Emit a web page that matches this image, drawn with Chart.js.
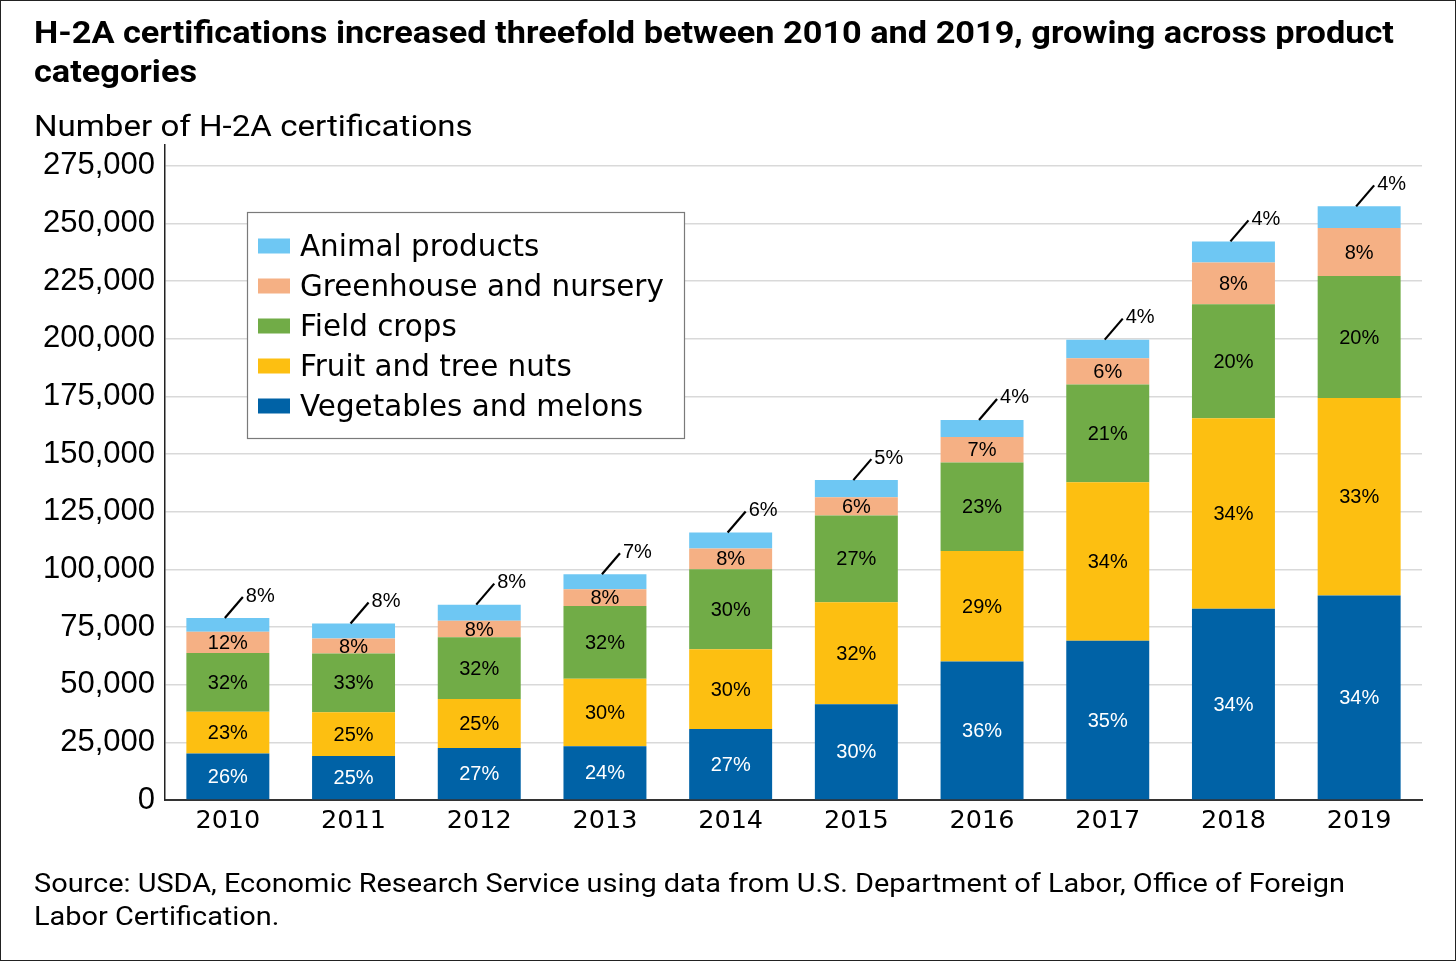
<!DOCTYPE html>
<html>
<head>
<meta charset="utf-8">
<script src="https://cdn.jsdelivr.net/npm/chart.js@4.4.1/dist/chart.umd.min.js"></script>
<style>
  html, body { margin: 0; padding: 0; background: #fff; }
  #wrap { position: relative; width: 1456px; height: 961px; overflow: hidden; background: #fff; }
  #c { position: absolute; left: 0; top: 0; }
  .txt { position: absolute; white-space: nowrap; color: #000; font-family: Roboto, "Liberation Sans", sans-serif; transform-origin: 0 0; }
  #title { left: 34px; top: 13px; font-size: 31px; font-weight: 700; line-height: 39px; transform: scaleX(1.106); }
  #ytitle { left: 34px; top: 106px; font-size: 30px; line-height: 40px; transform: scaleX(1.103); }
  #source { left: 34px; top: 867px; font-size: 26px; line-height: 33px; transform: scaleX(1.111); }
  #frame { position: absolute; left: 0; top: 0; width: 1456px; height: 961px; box-sizing: border-box; border: 1.5px solid #222; pointer-events: none; }
</style>
</head>
<body>
<div id="wrap">
  <canvas id="c" width="1456" height="961"></canvas>
  <div id="title" class="txt">H-2A certifications increased threefold between 2010 and 2019, growing across product<br>categories</div>
  <div id="ytitle" class="txt">Number of H-2A certifications</div>
  <div id="source" class="txt">Source: USDA, Economic Research Service using data from U.S. Department of Labor, Office of Foreign<br>Labor Certification.</div>
  <div id="frame"></div>
</div>
<script>
// ---- Data ----
const years = ["2010", "2011", "2012", "2013", "2014", "2015", "2016", "2017", "2018", "2019"];
const vegetablesMelons = [20200, 19100, 22600, 23300, 30800, 41500, 60100, 69000, 82900, 88700];
const fruitTreeNuts    = [18100, 19000, 21200, 29300, 34600, 44200, 47900, 68800, 82600, 85600];
const fieldCrops       = [25400, 25400, 26800, 31500, 34600, 37700, 38300, 42400, 49400, 52900];
const greenhouseNursery= [9200, 6500, 7100, 7300, 9100, 7900, 11100, 11300, 18200, 20800];
const animalProducts   = [6000, 6500, 7000, 6500, 6900, 7400, 7400, 8100, 9100, 9400];

// Percentage labels shown on the chart
const vegPct    = [26, 25, 27, 24, 27, 30, 36, 35, 34, 34];
const fruitPct  = [23, 25, 25, 30, 30, 32, 29, 34, 34, 33];
const fieldPct  = [32, 33, 32, 32, 30, 27, 23, 21, 20, 20];
const greenPct  = [12, 8, 8, 8, 8, 6, 7, 6, 8, 8];
const animalPct = [8, 8, 8, 7, 6, 5, 4, 4, 4, 4];

// Y-axis tick values
const yTicks = [0, 25000, 50000, 75000, 100000, 125000, 150000, 175000, 200000, 225000, 250000, 275000];
const yMax = 284000;

const pctLabels = [vegPct, fruitPct, fieldPct, greenPct, animalPct];

const labelPlugin = {
  id: 'segLabels',
  afterDatasetsDraw(chart) {
    const ctx = chart.ctx;
    ctx.save();
    ctx.font = '20px "Liberation Sans", Arial, sans-serif';
    ctx.textAlign = 'center';
    ctx.textBaseline = 'middle';
    for (let d = 0; d < 4; d++) {
      const meta = chart.getDatasetMeta(d);
      meta.data.forEach((el, i) => {
        ctx.fillStyle = d === 0 ? '#ffffff' : '#000000';
        ctx.fillText(pctLabels[d][i] + '%', el.x, (el.y + el.base) / 2 + 1);
      });
    }
    const top = chart.getDatasetMeta(4);
    ctx.strokeStyle = '#000';
    ctx.lineWidth = 2.2;
    ctx.textAlign = 'left';
    ctx.fillStyle = '#000';
    top.data.forEach((el, i) => {
      ctx.beginPath();
      ctx.moveTo(el.x - 3, el.y);
      ctx.lineTo(el.x + 15, el.y - 21);
      ctx.stroke();
      ctx.fillText(pctLabels[4][i] + '%', el.x + 18, el.y - 22);
    });
    ctx.restore();
  },
  afterDraw(chart) {
    const ctx = chart.ctx;
    const a = chart.chartArea;
    const bx = a.left + 82, by = a.top + 67, bw = 437, bh = 226;
    ctx.save();
    ctx.fillStyle = '#fff';
    ctx.fillRect(bx, by, bw, bh);
    ctx.strokeStyle = '#7a7a7a';
    ctx.lineWidth = 1.2;
    ctx.strokeRect(bx + 0.5, by + 0.5, bw, bh);
    const order = [4, 3, 2, 1, 0];
    ctx.font = '29.4px "DejaVu Sans", sans-serif';
    ctx.textBaseline = 'middle';
    ctx.textAlign = 'left';
    order.forEach((d, k) => {
      const ds = chart.data.datasets[d];
      const cy = by + 34 + k * 40;
      ctx.fillStyle = ds.backgroundColor;
      ctx.fillRect(bx + 11, cy - 7.5, 32, 15);
      ctx.fillStyle = '#000';
      ctx.fillText(ds.label, bx + 53, cy + 2);
    });
    ctx.restore();
  }
};

new Chart(document.getElementById('c'), {
  type: 'bar',
  data: {
    labels: years,
    datasets: [
      { label: 'Vegetables and melons', data: vegetablesMelons, backgroundColor: '#0062A6' },
      { label: 'Fruit and tree nuts', data: fruitTreeNuts, backgroundColor: '#FDBF11' },
      { label: 'Field crops', data: fieldCrops, backgroundColor: '#71AC47' },
      { label: 'Greenhouse and nursery', data: greenhouseNursery, backgroundColor: '#F5B084' },
      { label: 'Animal products', data: animalProducts, backgroundColor: '#6EC7F3' }
    ]
  },
  options: {
    responsive: false,
    animation: false,
    devicePixelRatio: 1,
    layout: { padding: { left: 0, right: 34, top: 145, bottom: 121 } },
    datasets: { bar: { barPercentage: 0.66, categoryPercentage: 1, borderWidth: 0 } },
    plugins: { legend: { display: false }, tooltip: { enabled: false }, title: { display: false } },
    scales: {
      x: {
        stacked: true,
        grid: { display: false, drawTicks: false },
        border: { display: true, color: '#333', width: 2 },
        ticks: { color: '#000', font: { family: '"DejaVu Sans", sans-serif', size: 25.5 }, padding: 6 },
        afterFit(s) { s.height = 40; }
      },
      y: {
        stacked: true,
        min: 0,
        max: yMax,
        afterBuildTicks(s) { s.ticks = yTicks.map(v => ({ value: v })); },
        grid: {
          drawTicks: false,
          color: (c) => (c.tick && c.tick.value !== 0) ? '#d9d9d9' : 'rgba(0,0,0,0)',
          lineWidth: 1.5
        },
        border: { display: true, color: '#222', width: 1.5 },
        ticks: {
          color: '#000',
          padding: 10,
          font: { family: '"Liberation Sans", Arial, sans-serif', size: 31 },
          callback: (v) => Number(v).toLocaleString('en-US')
        },
        afterFit(s) { s.width = 165; }
      }
    }
  },
  plugins: [labelPlugin]
});
</script>
</body>
</html>
